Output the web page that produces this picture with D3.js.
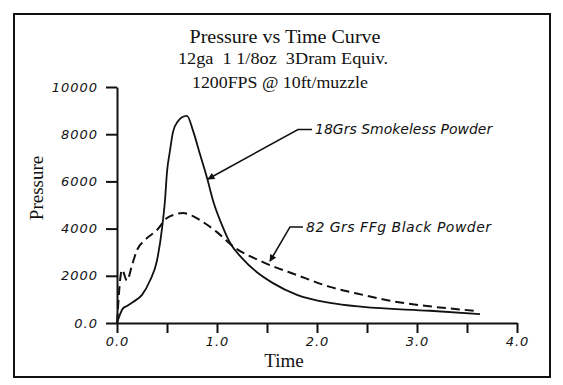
<!DOCTYPE html>
<html>
<head>
<meta charset="utf-8">
<script src="https://cdn.jsdelivr.net/npm/d3@7"></script>
<style>
	body { margin: 0; background: #fff; }
	.hand { font-family: "DejaVu Sans", sans-serif; font-style: italic; fill: #111; }
	.serif { font-family: "Liberation Serif", serif; fill: #111; }
</style>
</head>
<body>
<script>
// Data
var smokelessTime = [0, 0.06, 0.10, 0.16, 0.25, 0.33, 0.40, 0.45, 0.48, 0.50, 0.53, 0.56, 0.61, 0.65, 0.70, 0.76, 0.83, 0.90, 0.97, 1.05, 1.13, 1.25, 1.40, 1.56, 1.80, 2.13, 2.46, 3.13, 3.63];
var smokelessPressure = [0, 620, 720, 890, 1190, 1800, 2650, 4000, 5200, 6400, 7300, 8100, 8550, 8720, 8780, 8150, 7150, 6150, 5050, 4150, 3400, 2750, 2150, 1690, 1190, 850, 680, 520, 380];

var blackTime = [0, 0.05, 0.10, 0.15, 0.20, 0.28, 0.40, 0.50, 0.58, 0.66, 0.75, 0.83, 1.00, 1.16, 1.46, 1.80, 2.13, 2.46, 2.80, 3.10, 3.60];
var blackPressure = [0, 2250, 1800, 2450, 3090, 3520, 3940, 4450, 4600, 4660, 4550, 4360, 3850, 3250, 2580, 2030, 1530, 1190, 890, 720, 510];

var yTicks = [0, 2000, 4000, 6000, 8000, 10000];
var yTickLabels = ["0.0", "2000", "4000", "6000", "8000", "10000"];
var xTicks = [0, 0.5, 1, 1.5, 2, 2.5, 3, 3.5, 4];
var xTickLabels = ["0.0", "", "1.0", "", "2.0", "", "3.0", "", "4.0"];

var titleLines = ["Pressure vs Time Curve", "12ga  1 1/8oz  3Dram Equiv.", "1200FPS @ 10ft/muzzle"];

var width = 563, height = 385;

var svg = d3.select("body")
	.append("svg")
	.attr("width", width)
	.attr("height", height);

// outer frame
svg.append("rect")
	.attr("x", 14)
	.attr("y", 14)
	.attr("width", 536)
	.attr("height", 363)
	.attr("fill", "none")
	.attr("stroke", "#111")
	.attr("stroke-width", 2);

// titles
svg.append("text").attr("class", "serif")
	.attr("x", 285).attr("y", 43)
	.attr("text-anchor", "middle")
	.attr("textLength", 191)
	.attr("lengthAdjust", "spacingAndGlyphs")
	.style("font-size", "19px")
	.text(titleLines[0]);
svg.append("text").attr("class", "serif")
	.attr("x", 283).attr("y", 64)
	.attr("text-anchor", "middle")
	.attr("textLength", 210)
	.attr("lengthAdjust", "spacingAndGlyphs")
	.style("font-size", "17px")
	.style("white-space", "pre")
	.text(titleLines[1]);
svg.append("text").attr("class", "serif")
	.attr("x", 280).attr("y", 88)
	.attr("text-anchor", "middle")
	.attr("textLength", 176)
	.attr("lengthAdjust", "spacingAndGlyphs")
	.style("font-size", "17px")
	.text(titleLines[2]);

var x = d3.scaleLinear().domain([0, 4]).range([117, 517]);
var y = d3.scaleLinear().domain([0, 10000]).range([323, 87]);

// y axis
svg.append("g")
	.attr("transform", "translate(" + x(0) + ",0)")
	.call(d3.axisLeft(y)
		.tickValues(yTicks)
		.tickSize(11)
		.tickSizeOuter(0)
		.tickPadding(8)
		.tickFormat(function(d, i) { return yTickLabels[i]; }));

// x axis
svg.append("g")
	.attr("transform", "translate(0," + y(0) + ")")
	.call(d3.axisBottom(x)
		.tickValues(xTicks)
		.tickSize(10)
		.tickSizeOuter(0)
		.tickPadding(4)
		.tickFormat(function(d, i) { return xTickLabels[i]; }));

svg.selectAll(".domain, .tick line")
	.attr("stroke", "#111")
	.attr("stroke-width", 2);

svg.selectAll(".tick text")
	.attr("class", "hand")
	.style("font-size", "13px")
	.style("letter-spacing", "1px")
	.attr("fill", "#111");

// axis titles
svg.append("text").attr("class", "serif")
	.attr("transform", "translate(43,188) rotate(-90)")
	.attr("text-anchor", "middle")
	.style("font-size", "19px")
	.text("Pressure");
svg.append("text").attr("class", "serif")
	.attr("x", 284).attr("y", 367)
	.attr("text-anchor", "middle")
	.style("font-size", "19px")
	.text("Time");

// curves
var line = d3.line()
	.x(function(d) { return x(d[0]); })
	.y(function(d) { return y(d[1]); })
	.curve(d3.curveMonotoneX);

svg.append("path")
	.datum(d3.zip(smokelessTime, smokelessPressure))
	.attr("d", line)
	.attr("fill", "none")
	.attr("stroke", "#111")
	.attr("stroke-width", 1.8);

svg.append("path")
	.datum(d3.zip(blackTime, blackPressure))
	.attr("d", line)
	.attr("fill", "none")
	.attr("stroke", "#111")
	.attr("stroke-width", 2)
	.attr("stroke-dasharray", "9,5");

// arrow marker
svg.append("defs").append("marker")
	.attr("id", "arrow")
	.attr("viewBox", "0 0 10 10")
	.attr("refX", 9)
	.attr("refY", 5)
	.attr("markerWidth", 9)
	.attr("markerHeight", 7)
	.attr("markerUnits", "userSpaceOnUse")
	.attr("orient", "auto")
	.append("path")
	.attr("d", "M0,0 L10,5 L0,10 z")
	.attr("fill", "#111");

// smokeless callout
svg.append("path")
	.attr("d", "M" + x(1.95) + "," + y(8200) + " L" + x(1.81) + "," + y(8200) + " L" + x(0.91) + "," + y(6100))
	.attr("fill", "none")
	.attr("stroke", "#111")
	.attr("stroke-width", 1.6)
	.attr("marker-end", "url(#arrow)");
svg.append("text").attr("class", "hand")
	.attr("x", x(1.98)).attr("y", y(8200) + 5)
	.style("font-size", "14px")
	.text("18Grs Smokeless Powder");

// black powder callout
svg.append("path")
	.attr("d", "M" + x(1.86) + "," + y(4070) + " L" + x(1.73) + "," + y(4070) + " L" + x(1.53) + "," + y(2620))
	.attr("fill", "none")
	.attr("stroke", "#111")
	.attr("stroke-width", 1.6)
	.attr("marker-end", "url(#arrow)");
svg.append("text").attr("class", "hand")
	.attr("x", x(1.89)).attr("y", y(4070) + 5)
	.style("font-size", "14px")
	.style("letter-spacing", "0.5px")
	.text("82 Grs FFg Black Powder");
</script>
</body>
</html>
